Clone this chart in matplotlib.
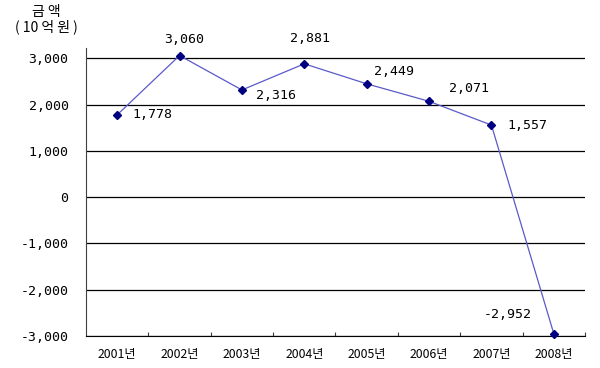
import matplotlib
matplotlib.use("Agg")
import matplotlib.pyplot as plt
from matplotlib.ticker import FuncFormatter

years = ["2001년", "2002년", "2003년", "2004년", "2005년", "2006년", "2007년", "2008년"]
amounts = [1778, 3060, 2316, 2881, 2449, 2071, 1557, -2952]
# label centre offsets from the point, in pixels
label_off = [(35, 0), (5, 16), (34, -6), (6, 25), (27, 12), (40, 13), (36, 0), (-46, 19)]
yticks = [-3000, -2000, -1000, 0, 1000, 2000, 3000]

plt.rcParams["font.family"] = ["Noto Sans CJK KR", "DejaVu Sans"]
num_font = ["DejaVu Sans Mono", "Noto Sans CJK KR"]

fig = plt.figure(figsize=(6, 3.68), dpi=100)
ax = fig.add_axes([0.1433, 0.0870, 0.8317, 0.7826])

x = list(range(len(years)))
ax.plot(x, amounts, color="#5a5ac8", linewidth=0.9, zorder=3)
ax.plot(x, amounts, linestyle="none", marker="D", markersize=4.5,
        color="#000080", zorder=4, clip_on=False)

for xi, v, (dx, dy) in zip(x, amounts, label_off):
    ax.annotate(f"{v:,}", (xi, v), xytext=(dx, dy), textcoords="offset pixels",
                ha="center", va="center", fontsize=9.5, family=num_font, color="black")

ax.set_xlim(-0.5, len(years) - 0.5)
ax.set_ylim(-3000, 3223)
ax.set_yticks(yticks)
ax.yaxis.set_major_formatter(FuncFormatter(lambda v, p: f"{int(v):,}"))
ax.yaxis.grid(True, color="black", linewidth=0.9)
ax.set_axisbelow(True)

ax.set_xticks(x)
ax.set_xticklabels(years, fontsize=8.8)
ax.set_xticks([i + 0.5 for i in x], minor=True)
ax.tick_params(axis="x", which="major", length=0, pad=9)
ax.tick_params(axis="x", which="minor", direction="in", length=3, width=0.8, color="#404040")
ax.tick_params(axis="y", length=0, pad=12.5)
for lab in ax.get_yticklabels():
    lab.set_family(num_font)
    lab.set_fontsize(9.5)

for s in ["top", "right"]:
    ax.spines[s].set_visible(False)
ax.spines["left"].set_color("#404040")
ax.spines["bottom"].set_color("black")

fig.text(46 / 600, 1 - 12 / 368, "금 액", ha="center", va="center", fontsize=10)
fig.text(46.5 / 600, 1 - 27 / 368, "( 10 억 원 )", ha="center", va="center", fontsize=10)

fig.savefig("out.png", dpi=100)
